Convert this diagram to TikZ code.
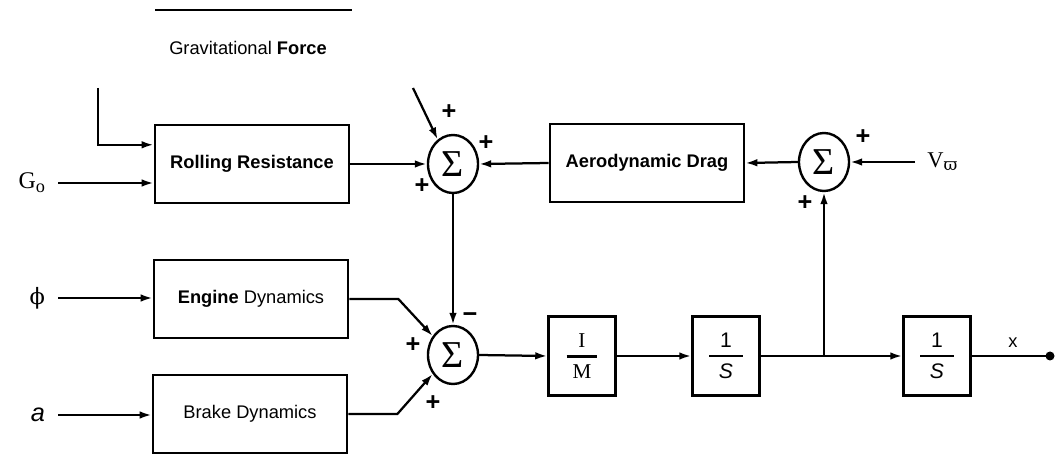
\documentclass[tikz,border=0pt]{standalone}
\usepackage{amsmath}
\usepackage{fontspec}
\setmainfont{Liberation Sans}
\newfontfamily\serif{Liberation Serif}
\newfontfamily\greek{DejaVu Serif}
\usetikzlibrary{arrows.meta,positioning,shapes.geometric}

\newcommand{\gainfrac}[3]{$\genfrac{}{}{1.6pt}{0}{\makebox[#1]{#2}}{\text{#3}}$}

\begin{document}
\begin{tikzpicture}[
    x=0.025cm, y=-0.025cm,
    font=\fontsize{13}{15}\selectfont,
    block/.style={draw, line width=1.9pt, minimum width=4.85cm, minimum height=1.95cm, align=center, inner sep=0pt},
    gain/.style={draw, line width=1.9pt, minimum width=1.67cm, minimum height=1.97cm, inner sep=0pt, font=\fontsize{15}{17}\selectfont},
    summer/.style={draw, ellipse, line width=1.7pt, minimum width=1.25cm, minimum height=1.45cm, inner sep=0pt, font=\serif\fontsize{27}{27}\selectfont},
    sign/.style={inner sep=0pt, font=\bfseries\fontsize{18}{18}\selectfont},
    inlabel/.style={anchor=east, inner xsep=0.32cm},
    arrow/.style={-{Latex[length=3mm,width=1.9mm]}, line width=1.6pt}
  ]
  \useasboundingbox (0,0) rectangle (1055,458);

  % blocks
  \node[block] (roll) at (252,164) {\textbf{Rolling Resistance}};
  \node[block] (aero) at (647,163) {\textbf{Aerodynamic Drag}};
  \node[block] (engine) at (251,299) {\textbf{Engine} Dynamics};
  \node[block] (brake) at (250,414) {Brake Dynamics};
  \node[gain] (mass) at (582,356) {\gainfrac{22pt}{\serif I}{\serif M}};
  \node[gain] (intv) at (726,356) {\gainfrac{24pt}{1}{\itshape S}};
  \node[gain] (intx) at (937,356) {\gainfrac{24pt}{1}{\itshape S}};

  % summing junctions
  \node[summer] (sum1) at (453,164) {Σ};
  \node[summer] (sum2) at (824,162) {Σ};
  \node[summer] (sum3) at (453,355) {Σ};

  % inputs
  \node at (248,48) {Gravitational \textbf{Force}};
  \draw[line width=1.6pt] (155,10) -- (352,10);
  \coordinate (gtop) at (98,88);
  \coordinate (gdiag) at (413,88);
  \node[inlabel] (go) at (58,183) {\serif\fontsize{17}{17}\selectfont G\raisebox{-3pt}{\fontsize{13}{13}\selectfont o}};
  \node[inlabel] (phi) at (58,298) {\greek\fontsize{16}{16}\selectfont ϕ};
  \node[inlabel] (acc) at (58,415) {\fontsize{18}{18}\selectfont\textit{a}};
  \node[anchor=west, inner xsep=0.3cm] (vw) at (915,162) {\serif\fontsize{16}{16}\selectfont V{\greek\fontsize{12}{12}\selectfont\raisebox{-2pt}{ϖ}}};
  \coordinate (xout) at (1050,356);

  % connections
  \draw[arrow] (gtop) |- ([yshift=0.48cm]roll.west);
  \draw[arrow] (go.east) -- (go.east -| roll.west);
  \draw[arrow] (phi.east) -- (phi.east -| engine.west);
  \draw[arrow] (acc.east) -- (acc.east -| brake.west);
  \draw[arrow] (roll.east) -- (sum1.west);
  \draw[arrow] (gdiag) -- (sum1.122);
  \draw[arrow] (aero.west) -- (sum1.east);
  \draw[arrow] (sum2.west) -- (aero.east);
  \draw[arrow] (vw.west) -- (sum2.east);
  \draw[arrow] (sum1.south) -- (sum3.north);
  \draw[arrow] (engine.east) -- ++(49,0) -- (sum3.137);
  \draw[arrow] (brake.east) -- ++(49,0) -- (sum3.223);
  \draw[arrow] (sum3.east) -- (mass.west);
  \draw[arrow] (mass.east) -- (intv.west);
  \draw[arrow] (intv.east) -- (intx.west);
  \coordinate (jn) at (sum2.south |- intv.east);
  \draw[arrow] (jn) -- (sum2.south);
  \draw[line width=1.6pt] (intx.east) -- (xout);
  \fill (xout) circle (4.5);
  \node at (1013,343) {x};

  % signs
  \node[sign] at (449,112) {+};
  \node[sign] at (486,143) {+};
  \node[sign] at (422,186) {+};
  \node[sign] at (863,137) {+};
  \node[sign] at (805,203) {+};
  \node[sign] at (470,318) {−};
  \node[sign] at (413,345) {+};
  \node[sign] at (433,403) {+};
\end{tikzpicture}
\end{document}
